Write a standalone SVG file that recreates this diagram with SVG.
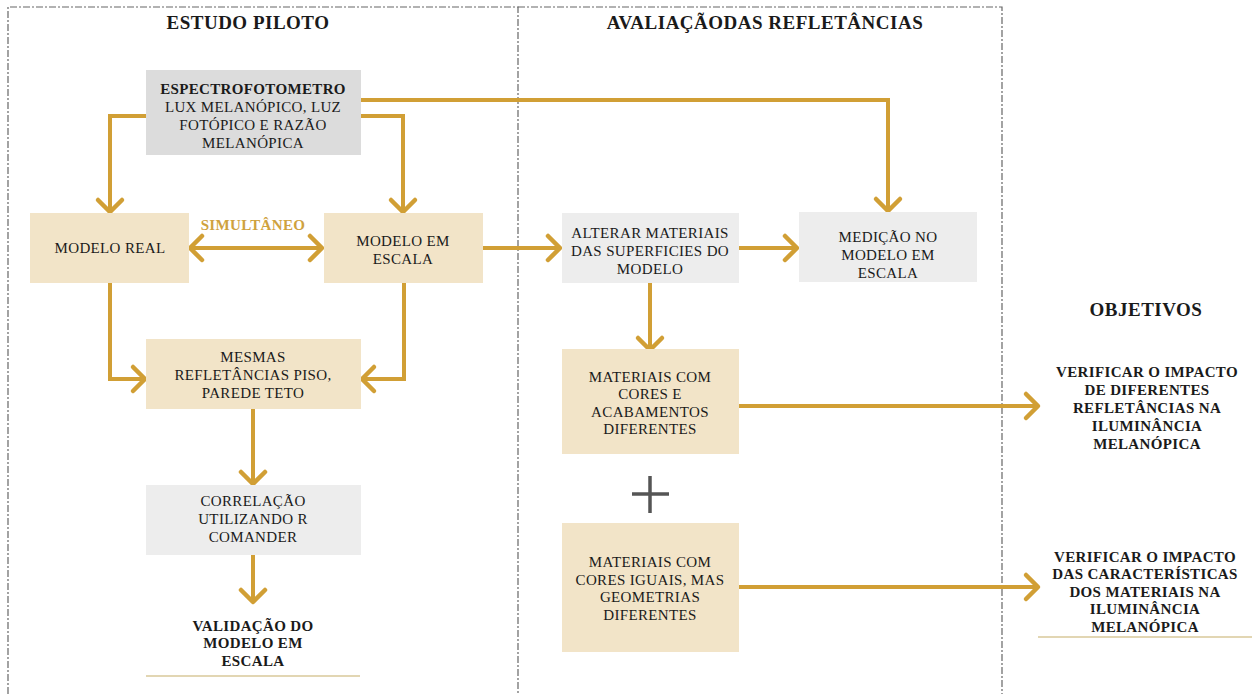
<svg xmlns="http://www.w3.org/2000/svg" width="1257" height="694" viewBox="0 0 1257 694" font-family="'Liberation Serif', 'Times New Roman', serif">
<style>
text{font-family:'Liberation Serif','Times New Roman',serif;fill:#1a1a1a;text-anchor:middle;font-size:15px;letter-spacing:0.35px}
.b{font-weight:bold}
.title{font-weight:bold;font-size:19px;letter-spacing:0.5px}
.beige{fill:#f2e4c8}
.gray1{fill:#dcdcdc}
.gray2{fill:#ededed}
.con{fill:none;stroke:#d19f35;stroke-width:4}
.frame{fill:none;stroke:#666;stroke-width:1.2;stroke-dasharray:7 2 2 2}
.ul{stroke:#d9c99a;stroke-width:1.5}
</style>
<defs>
<marker id="ah" markerUnits="userSpaceOnUse" markerWidth="30" markerHeight="30" refX="0" refY="0" orient="auto" overflow="visible">
<path d="M-12,-12 L0,0 L-12,12" fill="none" stroke="#d19f35" stroke-width="4.5" stroke-linecap="round" stroke-linejoin="round"/>
</marker>
<marker id="ahs" markerUnits="userSpaceOnUse" markerWidth="30" markerHeight="30" refX="0" refY="0" orient="auto-start-reverse" overflow="visible">
<path d="M-12,-12 L0,0 L-12,12" fill="none" stroke="#d19f35" stroke-width="4.5" stroke-linecap="round" stroke-linejoin="round"/>
</marker>
</defs>
<rect width="1257" height="694" fill="#fff"/>
<g id="frames">
<path class="frame" d="M8,694 V7 H518 V694"/>
<path class="frame" d="M518,7 H1002 V694"/>
</g>
<g id="titles">
<text class="title" x="248" y="29">ESTUDO PILOTO</text>
<text class="title" x="765" y="29">AVALIAÇÃODAS REFLETÂNCIAS</text>
<text class="title" x="1146" y="316">OBJETIVOS</text>
</g>
<g id="connectors">
<path class="con" d="M146,116 H110 V212" marker-end="url(#ah)"/>
<path class="con" d="M361,116 H403 V212" marker-end="url(#ah)"/>
<path class="con" d="M361,100 H888 V211" marker-end="url(#ah)"/>
<path class="con" d="M190,248 H322" marker-start="url(#ahs)" marker-end="url(#ahs)"/>
<path class="con" d="M483,248 H560" marker-end="url(#ah)"/>
<path class="con" d="M739,248 H797" marker-end="url(#ah)"/>
<path class="con" d="M110,283 V379 H145" marker-end="url(#ah)"/>
<path class="con" d="M404,283 V379 H362" marker-end="url(#ah)"/>
<path class="con" d="M253,409 V484" marker-end="url(#ah)"/>
<path class="con" d="M253,555 V602" marker-end="url(#ah)"/>
<path class="con" d="M650,283 V350" marker-end="url(#ah)"/>
<path class="con" d="M739,406 H1038" marker-end="url(#ah)"/>
<path class="con" d="M739,587 H1038" marker-end="url(#ah)"/>
</g>
<g id="espectro">
<rect class="gray1" x="146" y="70" width="215" height="85"/>
<text class="b" x="253" y="94">ESPECTROFOTOMETRO</text>
<text x="253" y="112">LUX MELANÓPICO, LUZ</text>
<text x="253" y="130">FOTÓPICO E RAZÃO</text>
<text x="253" y="148">MELANÓPICA</text>
</g>
<g id="modelo-real">
<rect class="beige" x="30" y="213" width="159" height="70"/>
<text x="110" y="253">MODELO REAL</text>
</g>
<g id="simultaneo">
<text class="b" x="253" y="230" style="fill:#cfa23e">SIMULTÂNEO</text>
</g>
<g id="modelo-escala">
<rect class="beige" x="324" y="213" width="159" height="70"/>
<text x="403" y="246">MODELO EM</text>
<text x="403" y="264">ESCALA</text>
</g>
<g id="alterar">
<rect class="gray2" x="562" y="213" width="177" height="70"/>
<text x="650" y="238">ALTERAR MATERIAIS</text>
<text x="650" y="256">DAS SUPERFICIES DO</text>
<text x="650" y="274">MODELO</text>
</g>
<g id="medicao">
<rect class="gray2" x="799" y="212" width="178" height="70"/>
<text x="888" y="242">MEDIÇÃO NO</text>
<text x="888" y="260">MODELO EM</text>
<text x="888" y="278">ESCALA</text>
</g>
<g id="mesmas">
<rect class="beige" x="146" y="339" width="215" height="70"/>
<text x="253" y="362">MESMAS</text>
<text x="253" y="380">REFLETÂNCIAS PISO,</text>
<text x="253" y="398">PAREDE TETO</text>
</g>
<g id="correlacao">
<rect class="gray2" x="146" y="485" width="215" height="70"/>
<text x="253" y="506">CORRELAÇÃO</text>
<text x="253" y="524">UTILIZANDO R</text>
<text x="253" y="542">COMANDER</text>
</g>
<g id="validacao">
<text class="b" x="253" y="631">VALIDAÇÃO DO</text>
<text class="b" x="253" y="648">MODELO EM</text>
<text class="b" x="253" y="666">ESCALA</text>
<line class="ul" x1="146" y1="676" x2="360" y2="676"/>
</g>
<g id="materiais1">
<rect class="beige" x="562" y="349" width="177" height="105"/>
<text x="650" y="382">MATERIAIS COM</text>
<text x="650" y="399">CORES E</text>
<text x="650" y="417">ACABAMENTOS</text>
<text x="650" y="434">DIFERENTES</text>
</g>
<g id="plus">
<path d="M632,494 H669 M650,476 V513" stroke="#555" stroke-width="3.5" fill="none"/>
</g>
<g id="materiais2">
<rect class="beige" x="562" y="523" width="177" height="129"/>
<text x="650" y="567">MATERIAIS COM</text>
<text x="650" y="585">CORES IGUAIS, MAS</text>
<text x="650" y="602">GEOMETRIAS</text>
<text x="650" y="620">DIFERENTES</text>
</g>
<g id="objetivo1">
<text class="b" x="1147" y="377">VERIFICAR O IMPACTO</text>
<text class="b" x="1147" y="395">DE DIFERENTES</text>
<text class="b" x="1147" y="413">REFLETÂNCIAS NA</text>
<text class="b" x="1147" y="431">ILUMINÂNCIA</text>
<text class="b" x="1147" y="449">MELANÓPICA</text>
</g>
<g id="objetivo2">
<text class="b" x="1145" y="562">VERIFICAR O IMPACTO</text>
<text class="b" x="1145" y="579">DAS CARACTERÍSTICAS</text>
<text class="b" x="1145" y="597">DOS MATERIAIS NA</text>
<text class="b" x="1145" y="614">ILUMINÂNCIA</text>
<text class="b" x="1145" y="632">MELANÓPICA</text>
<line class="ul" x1="1038" y1="637" x2="1252" y2="637"/>
</g>
</svg>
